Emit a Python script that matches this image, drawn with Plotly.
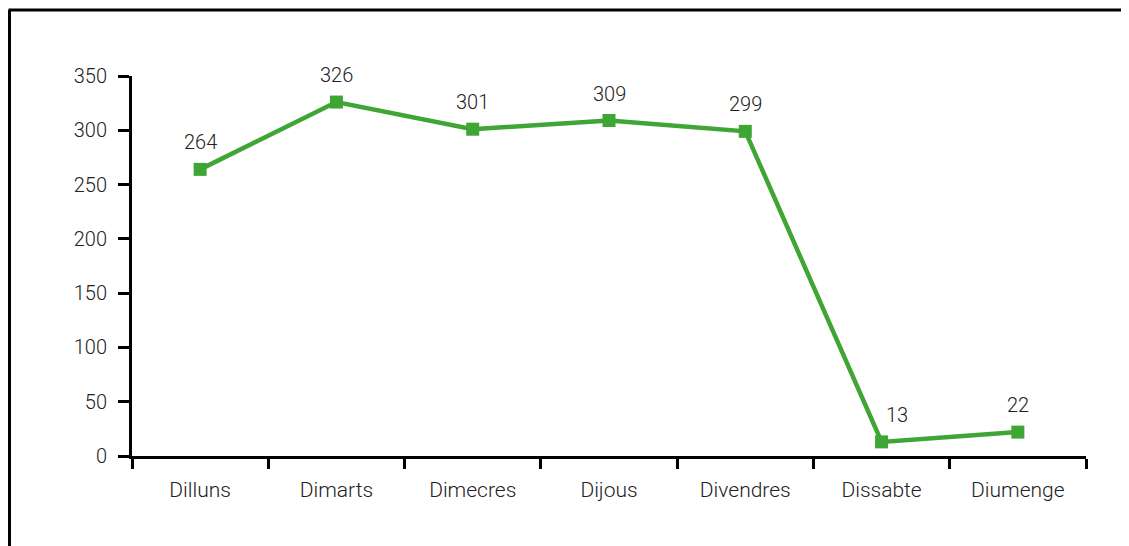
import plotly.graph_objects as go

days = ["Dilluns", "Dimarts", "Dimecres", "Dijous", "Divendres", "Dissabte", "Diumenge"]
values = [264, 326, 301, 309, 299, 13, 22]
label_xshift = [0, 0, 0, 0, 0, 15, 0]
y_ticks = [0, 50, 100, 150, 200, 250, 300, 350]

GREEN = "#3FA535"
TXT = "#222222"
FONT = "Roboto"
FS = 20

# page body has an 8px margin; size the figure so it fills the window
OFF = 8
W, H = 1129 - OFF, 546 - OFF
L, R, T, B = 132 - OFF, 43, 76 - OFF, 90
pw, ph = W - L - R, H - T - B


def px(x):
    return (x - OFF - L) / pw


def py(y):
    return (H - B - (y - OFF)) / ph


fig = go.Figure()
fig.add_trace(go.Scatter(
    x=days, y=values,
    mode="lines+markers",
    line=dict(color=GREEN, width=4.5),
    marker=dict(symbol="square", size=13, color=GREEN),
    cliponaxis=False,
    hoverinfo="skip",
))

annotations = [
    dict(x=d, y=v, xref="x", yref="y", text=str(v), showarrow=False,
         yshift=27, xshift=s,
         font=dict(family=FONT, size=FS, color=TXT, weight=300))
    for d, v, s in zip(days, values, label_xshift)
]

fig.update_layout(
    width=W, height=H,
    margin=dict(l=L, r=R, t=T, b=B, pad=0),
    paper_bgcolor="white", plot_bgcolor="white",
    showlegend=False,
    font=dict(family=FONT, size=FS, color=TXT),
    xaxis=dict(
        type="category", range=[-0.5, len(days) - 0.5],
        tickson="boundaries", ticks="outside", ticklen=10,
        tickwidth=3, tickcolor="black", showline=True, linecolor="black",
        linewidth=3, showgrid=False, zeroline=False,
        tickfont=dict(family=FONT, size=21, color=TXT, weight=300),
        ticklabelstandoff=13,
    ),
    yaxis=dict(
        range=[0, 350], tickvals=y_ticks, ticks="outside", ticklen=11,
        tickwidth=3, tickcolor="black", showline=True, linecolor="black",
        linewidth=3, showgrid=False, zeroline=False,
        tickfont=dict(family=FONT, size=FS, color=TXT, weight=300),
        ticklabelstandoff=7,
    ),
    annotations=annotations,
    shapes=[
        dict(type="line", xref="paper", yref="paper", x0=px(8.5), x1=px(1160),
             y0=py(10), y1=py(10), line=dict(color="black", width=3)),
        dict(type="line", xref="paper", yref="paper", x0=px(9.5), x1=px(9.5),
             y0=py(10), y1=py(600), line=dict(color="black", width=3)),
    ],
)

fig.write_html("out.html")
